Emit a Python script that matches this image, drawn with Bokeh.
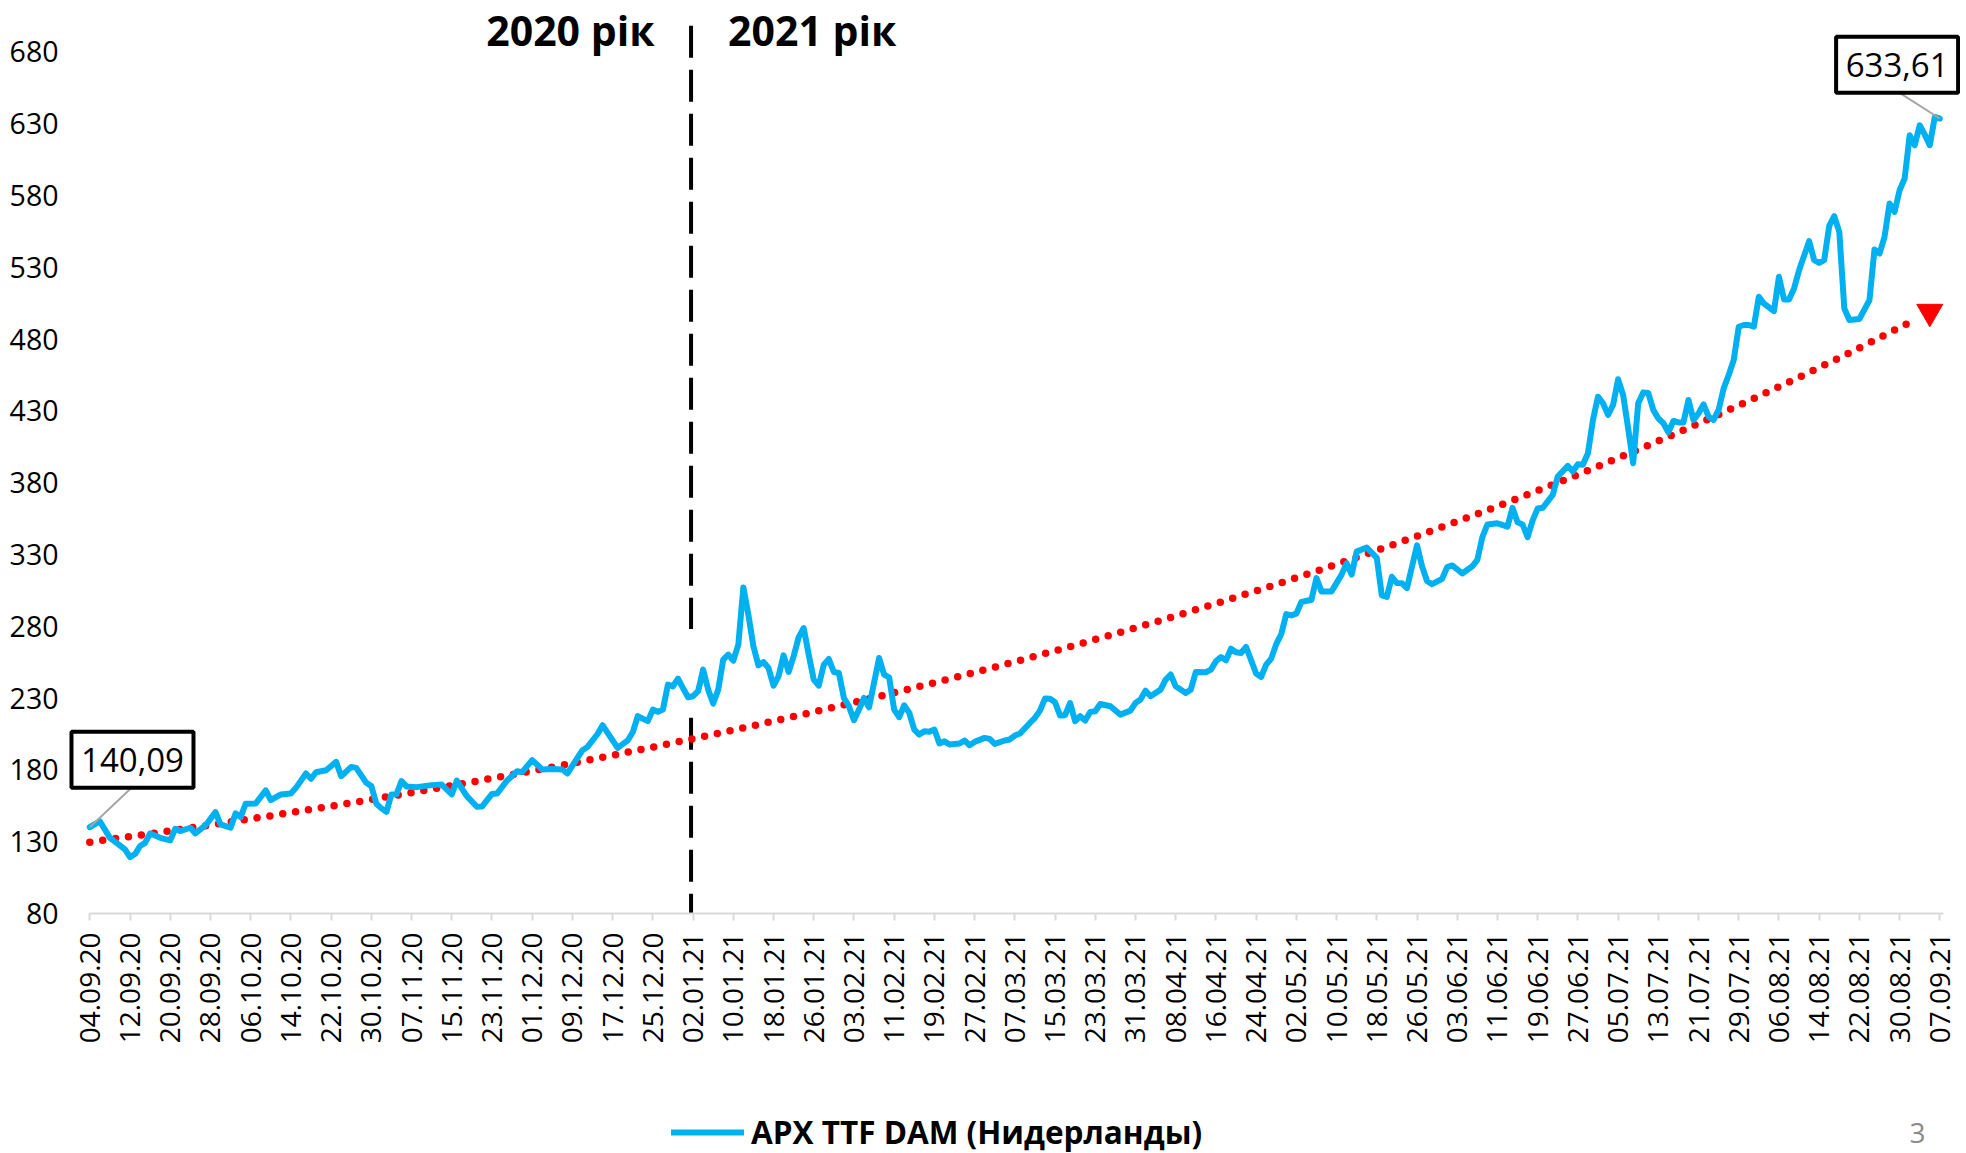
import math
import numpy as np
from bokeh.plotting import figure
from bokeh.layouts import column
from bokeh.models import Range1d, FixedTicker, Label, Legend, LegendItem
from bokeh.embed import file_html
from bokeh.resources import INLINE

# ---------------- data ----------------
start_date = "04.09.20"
# days since 04.09.20
days = [0, 2, 4, 5, 7, 8, 9, 10, 11, 12, 14, 16, 17, 18, 20, 21, 23, 25, 26, 28,
        29, 30, 31, 33, 35, 36, 38, 40, 41, 43, 44, 45, 47, 49, 50, 52, 53, 55, 56, 57,
        58, 59, 60, 61, 62, 63, 65, 68, 70, 72, 73, 75, 77, 78, 80, 81, 83, 85, 86, 88,
        90, 92, 94, 95, 97, 98, 99, 101, 102, 103, 105, 107, 108, 109, 111, 112, 113, 114, 115, 116,
        117, 118, 119, 120, 121, 122, 123, 124, 125, 126, 127, 128, 129, 130, 131, 132, 133, 134, 135, 136,
        137, 138, 139, 140, 141, 142, 143, 144, 145, 146, 147, 148, 149, 150, 151, 152, 153, 154, 155, 157,
        158, 159, 160, 161, 162, 163, 164, 165, 166, 167, 168, 169, 170, 171, 173, 174, 175, 176, 178, 179,
        180, 182, 183, 184, 185, 187, 188, 189, 190, 191, 192, 193, 194, 195, 196, 197, 198, 199, 200, 201,
        203, 205, 207, 208, 209, 210, 211, 213, 214, 215, 216, 218, 219, 220, 222, 223, 224, 225, 226, 227,
        228, 229, 230, 232, 233, 234, 235, 236, 237, 238, 239, 240, 241, 243, 244, 245, 247, 249, 250, 251,
        252, 254, 256, 257, 258, 259, 260, 261, 262, 264, 265, 266, 267, 269, 270, 271, 272, 273, 275, 276,
        277, 278, 280, 282, 283, 284, 285, 286, 287, 288, 289, 290, 291, 292, 294, 295, 296, 297, 298, 299,
        300, 301, 302, 303, 304, 305, 306, 307, 308, 309, 310, 311, 312, 313, 314, 315, 316, 317, 318, 319,
        320, 321, 322, 323, 324, 325, 326, 327, 328, 329, 330, 331, 332, 333, 335, 336, 337, 338, 339, 340,
        342, 343, 344, 345, 346, 347, 348, 349, 350, 352, 354, 355, 356, 357, 358, 359, 360, 361, 362, 363,
        364, 365, 366, 367, 368]
prices = [140.09, 144.2, 132.7, 130.0, 124.6, 119.3, 121.4, 127.0, 129.2, 135.8, 132.7, 130.9, 139.0, 137.4, 139.7, 135.8, 141.3, 150.6, 142.0, 139.7,
          149.7, 147.1, 156.4, 156.6, 165.7, 158.9, 162.9, 163.6, 167.5, 177.5, 173.8, 178.4, 179.8, 185.6, 175.6, 182.1, 181.4, 171.0, 168.7, 156.4,
          153.2, 150.8, 162.9, 163.0, 172.2, 168.5, 168.0, 169.4, 169.8, 162.9, 172.6, 161.7, 154.3, 154.5, 163.3, 163.5, 172.6, 179.1, 178.4, 186.8,
          180.3, 180.7, 180.3, 177.5, 188.4, 193.7, 196.0, 205.0, 211.1, 205.8, 195.3, 200.5, 206.2, 217.4, 214.0, 222.0, 220.4, 222.0, 239.4, 238.2,
          243.6, 237.0, 230.6, 231.3, 234.8, 249.8, 235.9, 226.2, 235.9, 256.8, 260.3, 256.1, 267.2, 307.1, 288.1, 266.1, 252.8, 255.1, 251.0, 238.7,
          245.2, 259.8, 248.2, 259.1, 272.3, 278.8, 260.3, 242.9, 238.7, 253.3, 257.2, 248.2, 247.5, 230.1, 224.3, 214.6, 222.0, 230.1, 223.6, 257.9,
          246.4, 244.5, 222.0, 216.7, 225.0, 219.7, 208.1, 204.6, 206.9, 206.5, 208.1, 198.4, 200.0, 197.7, 198.4, 200.5, 197.2, 199.5, 202.3, 201.6,
          198.1, 200.5, 201.2, 203.9, 205.3, 212.7, 216.2, 221.3, 229.7, 229.5, 227.1, 217.9, 218.1, 226.6, 213.9, 217.4, 214.4, 220.4, 220.8, 225.9,
          224.3, 218.5, 221.3, 226.6, 229.0, 235.2, 231.3, 235.9, 242.9, 246.4, 238.2, 233.6, 235.9, 248.2, 248.0, 249.8, 255.6, 258.6, 256.3, 264.4,
          261.9, 261.4, 265.6, 247.1, 244.7, 253.3, 257.5, 267.6, 274.6, 288.5, 287.6, 288.8, 296.9, 298.5, 313.6, 304.3, 304.3, 316.0, 323.9, 316.0,
          332.0, 334.9, 327.6, 301.5, 300.5, 314.5, 310.1, 310.0, 306.6, 336.4, 321.8, 311.6, 309.3, 313.1, 321.2, 322.4, 319.7, 316.8, 321.8, 326.2,
          342.1, 350.9, 351.7, 349.4, 362.5, 352.4, 350.9, 342.1, 353.8, 362.0, 362.5, 367.0, 371.5, 384.3, 391.7, 387.8, 392.8, 392.5, 400.5, 423.7,
          439.9, 435.3, 427.2, 434.1, 452.0, 441.1, 417.9, 393.5, 435.3, 442.9, 442.5, 430.7, 424.8, 421.4, 415.1, 423.0, 422.0, 422.0, 437.6, 423.7,
          428.3, 434.6, 426.0, 423.7, 430.7, 445.7, 455.0, 465.4, 488.6, 489.8, 489.8, 488.6, 509.5, 504.8, 499.5, 523.4, 507.6, 507.6, 515.3, 528.0,
          548.2, 535.0, 533.1, 535.0, 558.9, 565.6, 554.7, 501.3, 493.3, 494.0, 507.2, 542.4, 539.6, 551.2, 574.4, 568.6, 583.7, 591.8, 621.9, 615.0,
          628.9, 622.4, 615.0, 634.7, 633.61]

tick_labels = ["04.09.20", "12.09.20", "20.09.20", "28.09.20", "06.10.20", "14.10.20", "22.10.20",
               "30.10.20", "07.11.20", "15.11.20", "23.11.20", "01.12.20", "09.12.20", "17.12.20",
               "25.12.20", "02.01.21", "10.01.21", "18.01.21", "26.01.21", "03.02.21", "11.02.21",
               "19.02.21", "27.02.21", "07.03.21", "15.03.21", "23.03.21", "31.03.21", "08.04.21",
               "16.04.21", "24.04.21", "02.05.21", "10.05.21", "18.05.21", "26.05.21", "03.06.21",
               "11.06.21", "19.06.21", "27.06.21", "05.07.21", "13.07.21", "21.07.21", "29.07.21",
               "06.08.21", "14.08.21", "22.08.21", "30.08.21", "07.09.21"]
tick_step_days = 8
y_ticks = [80, 130, 180, 230, 280, 330, 380, 430, 480, 530, 580, 630, 680]

# exponential trendline (value at its start and at its arrow end)
trend_days = [0, 366]
trend_values = [129.7, 499.0]

first_value_label = "140,09"
last_value_label = "633,61"
year_labels = ["2020 рік", "2021 рік"]
series_name = "APX TTF DAM (Нидерланды)"
page_number = "3"
year_boundary_day = 119.6

# ---------------- styling ----------------
BLUE = "#00b0f0"
RED = "#ff0000"
FONT = "Open Sans"
W = 1960

# exponential curve through the read trendline values
_g = math.log(trend_values[1] / trend_values[0]) / (trend_days[1] - trend_days[0])
trend = lambda d: trend_values[0] * np.exp(_g * (np.asarray(d, dtype=float) - trend_days[0]))
trend_x = np.linspace(0, 363, 300)
trend_y = trend(trend_x)

chart = figure(width=W, height=1100, output_backend="svg", toolbar_location=None,
               x_range=Range1d(-4.436, 372.11), y_range=Range1d(80, 715.8),
               min_border_left=67, min_border_right=0, min_border_top=0, min_border_bottom=187)
chart.outline_line_color = None
chart.grid.visible = False
chart.background_fill_color = "white"
chart.border_fill_color = "white"

# y axis
chart.yaxis.ticker = FixedTicker(ticks=y_ticks)
chart.yaxis.axis_line_color = None
chart.yaxis.major_tick_line_color = None
chart.yaxis.minor_tick_line_color = None
chart.yaxis.major_label_standoff = 3
chart.yaxis.major_label_text_font = FONT
chart.yaxis.major_label_text_font_size = "28.5px"
chart.yaxis.major_label_text_color = "black"

# x axis
x_ticks = [i * tick_step_days for i in range(len(tick_labels))]
chart.xaxis.ticker = FixedTicker(ticks=x_ticks)
chart.xaxis.bounds = (0, 368.7)
chart.xaxis.major_label_overrides = {t: lbl for t, lbl in zip(x_ticks, tick_labels)}
chart.xaxis.major_label_orientation = math.pi / 2
chart.xaxis.axis_line_color = "#d9d9d9"
chart.xaxis.axis_line_width = 2
chart.xaxis.major_tick_line_color = "#d9d9d9"
chart.xaxis.major_tick_line_width = 2
chart.xaxis.major_tick_out = 7
chart.xaxis.major_tick_in = 0
chart.xaxis.minor_tick_line_color = None
chart.xaxis.major_label_standoff = 12
chart.xaxis.major_label_text_font = FONT
chart.xaxis.major_label_text_font_size = "28px"
chart.xaxis.major_label_text_color = "black"

# year boundary (dashed, interrupted around the data)
yb = year_boundary_day
chart.segment(x0=[yb, yb], y0=[698.2, 216.3], x1=[yb, yb], y1=[278.1, 80.0],
              line_color="black", line_width=4, line_dash="32 12")

# trend
chart.line(trend_x, trend_y, line_color=RED, line_width=7.5, line_dash="0 13", line_cap="round")
chart.scatter([trend_days[1]], [trend_values[1]], marker="inverted_triangle", size=26,
              fill_color=RED, line_color=RED)

# series
chart.line(days, prices, line_color=BLUE, line_width=6, line_join="round", line_cap="round")

# callouts: leader lines, boxes, texts
chart.segment(x0=[8.3, 360.0], y0=[167.5, 651.5], x1=[days[0], days[-1]], y1=[prices[0], prices[-1]],
              line_color="#a6a6a6", line_width=2)
callout_x = [8.49, 359.5]
callout_y = [187.0, 671.0]
chart.rect(x=callout_x, y=callout_y, width=122, height=56, width_units="screen",
           height_units="screen", fill_color="white", line_color="black", line_width=4)
for x, y, txt in zip(callout_x, callout_y, [first_value_label, last_value_label]):
    chart.add_layout(Label(x=x, y=y, text=txt, text_align="center", text_baseline="middle",
                           text_font=FONT, text_font_size="33px", text_color="black"))

# year labels
for x, txt in [(95.6, year_labels[0]), (143.7, year_labels[1])]:
    chart.add_layout(Label(x=x, y=695.5, text=txt, text_align="center", text_baseline="middle",
                           text_font=FONT, text_font_style="bold", text_font_size="41px",
                           text_color="black"))

# ---------------- legend strip below the chart ----------------
# its frame is aligned with the chart frame (x from 67 to 1960 px)
strip = figure(width=W, height=53, output_backend="svg", toolbar_location=None,
               x_range=Range1d(67, W), y_range=Range1d(0, 53),
               min_border_left=0, min_border_right=0, min_border_top=0, min_border_bottom=0,
               x_axis_location=None, y_axis_location=None)
strip.outline_line_color = None
strip.grid.visible = False
strip.background_fill_color = "white"
strip.border_fill_color = "white"
# series renderer for the legend entry (its values lie outside this strip's range)
legend_line = strip.line(days, prices, line_color=BLUE, line_width=6, line_cap="round")

legend = Legend(items=[LegendItem(label=series_name, renderers=[legend_line])],
                location=(604, 0), orientation="horizontal")
legend.label_text_font = FONT
legend.label_text_font_style = "bold"
legend.label_text_font_size = "31.5px"
legend.label_text_color = "black"
legend.glyph_width = 73
legend.glyph_height = 34
legend.label_standoff = 7
legend.padding = 0
legend.margin = 0
legend.border_line_color = None
legend.background_fill_alpha = 0
strip.add_layout(legend)

strip.add_layout(Label(x=1917, y=21, text=page_number, text_align="center",
                       text_baseline="middle", text_font=FONT, text_font_size="28px",
                       text_color="#8c8c8c"))

p = column(chart, strip, spacing=0)
open("out.html", "w").write(file_html(p, INLINE))
